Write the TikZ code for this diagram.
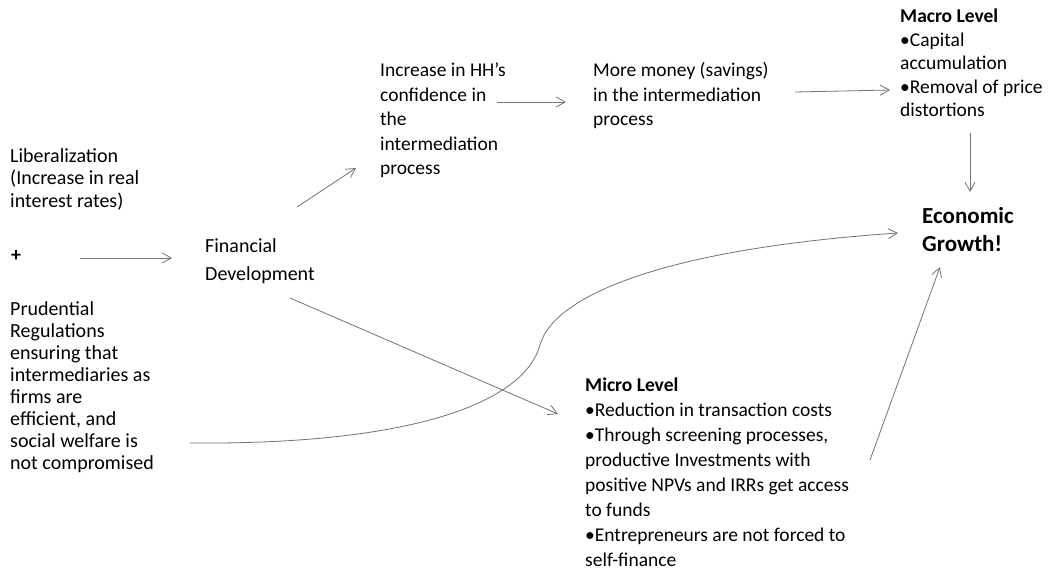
\documentclass[tikz,border=0pt]{standalone}
\usepackage{fontspec}
\setmainfont{Carlito}
\usetikzlibrary{arrows.meta}
\begin{document}
\begin{tikzpicture}[x=1pt,y=-1pt,
  txt/.style={anchor=base west, inner sep=0pt, align=left},
  bodyA/.style={font=\fontsize{20}{22}\selectfont},
  bodyB/.style={font=\fontsize{19.5}{24.5}\selectfont},
  conn/.style={draw=black!55, line width=0.8pt, -{Straight Barb[length=9pt,width=10pt]}}]
\useasboundingbox[fill=white] (0,0) rectangle (1048,572);

% base anchor = baseline of the last line
\node[txt,bodyA] (lib) at (10,207) {Liberalization\\(Increase in real\\interest rates)};
\node[inner sep=0pt, font=\fontsize{20}{22}\selectfont\bfseries] (plus) at (16,256) {+};
\node[txt,font=\fontsize{20}{28}\selectfont] (fd) at (205,280) {Financial\\Development};
\node[txt,bodyA] (pru) at (10,469) {Prudential\\Regulations\\ensuring that\\intermediaries as\\firms are\\efficient, and\\social welfare is\\not compromised};
\node[txt,bodyB] (hh) at (380,175) {Increase in HH’s\\confidence in\\the\\intermediation\\process};
\node[txt,bodyB] (mm) at (593,126) {More money (savings)\\in the intermediation\\process};
\node[txt,font=\fontsize{19.5}{23.5}\selectfont] (mac) at (900,117) {\textbf{Macro Level}\\•Capital\\accumulation\\•Removal of price\\distortions};
\node[txt,font=\fontsize{23}{28}\selectfont\bfseries] (eg) at (922,251) {Economic\\Growth!};
\node[txt,font=\fontsize{19.5}{25}\selectfont] (mic) at (585,566) {\textbf{Micro Level}\\•Reduction in transaction costs\\•Through screening processes,\\productive Investments with\\positive NPVs and IRRs get access\\to funds\\•Entrepreneurs are not forced to\\self-finance};

\coordinate (plusR) at (80,258);
\coordinate (fdL) at (172,258);
\coordinate (fdTR) at (297,207);
\coordinate (hhBL) at (356,168);
\coordinate (hhR) at (497,102);
\coordinate (mmL) at (566,102);
\coordinate (mmR) at (795,92);
\coordinate (macL) at (890,90);
\coordinate (macB) at (970,133);
\coordinate (egT) at (970,192);
\coordinate (fdBR) at (290,298);
\coordinate (micTL) at (558,414);
\coordinate (pruR) at (190,443);
\coordinate (egL) at (898,233);
\coordinate (micR) at (870,460);
\coordinate (egB) at (940,267);

\draw[conn] (plusR) -- (fdL);
\draw[conn] (fdTR) -- (hhBL);
\draw[conn] (hhR) -- (mmL);
\draw[conn] (mmR) -- (macL);
\draw[conn] (macB) -- (egT);
\draw[conn] (fdBR) -- (micTL);
\draw[conn] (pruR) .. controls (420,445) and (525,400) .. (540,345)
  .. controls (552,300) and (650,250) .. (egL);
\draw[conn] (micR) -- (egB);
\end{tikzpicture}
\end{document}
